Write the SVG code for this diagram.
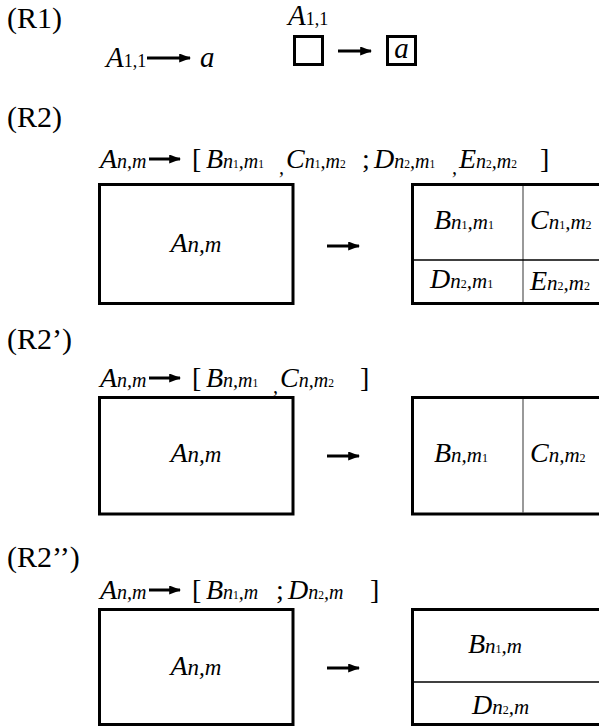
<svg xmlns="http://www.w3.org/2000/svg" width="599" height="727" viewBox="0 0 599 727">
<style>
text{font-family:"Liberation Serif","Times New Roman",serif;fill:#000}
.lbl{font-size:30px}
.m{font-size:28px;font-style:italic}
.s{font-size:20px;font-style:italic}
.d{font-size:11.5px;font-style:normal}
.p{font-size:28px;font-style:normal}
.bm{font-size:29px;font-style:italic}
.bs{font-size:23px;font-style:italic}
.cm{font-size:28px;font-style:italic}
.cs{font-size:21px;font-style:italic}
.cd{font-size:12px;font-style:normal}
.r{font-size:18px;font-style:normal}
.box{fill:#fff;stroke:#000;stroke-width:3}
.vd{stroke:#555;stroke-width:1.2}
.hd{stroke:#000;stroke-width:1.5}
.arr{stroke:#000;stroke-width:3;marker-end:url(#ah)}
</style>
<defs>
<marker id="ah" markerWidth="4" markerHeight="3" refX="3.6" refY="1.5" orient="auto" markerUnits="strokeWidth">
<path d="M0,0 L4,1.5 L0,3 Z" fill="#000"/>
</marker>
</defs>

<g id="labels">
<text class="lbl" x="7" y="28">(R1)</text>
<text class="lbl" x="7" y="127">(R2)</text>
<text class="lbl" x="7" y="349">(R2’)</text>
<text class="lbl" x="7" y="567">(R2’’)</text>
</g>

<g id="formulas">
<text x="106" y="67"><tspan class="bm">A</tspan><tspan class="r">1,1</tspan></text>
<text class="bm" x="200" y="67">a</text>

<text y="168"><tspan class="m" x="100">A</tspan><tspan class="s">n,m</tspan><tspan class="p" x="192">[</tspan><tspan class="m" x="206">B</tspan><tspan class="s">n</tspan><tspan class="d">1</tspan><tspan class="s">,m</tspan><tspan class="d">1</tspan><tspan class="s" x="279" dy="6">,</tspan><tspan class="m" x="286" dy="-6">C</tspan><tspan class="s">n</tspan><tspan class="d">1</tspan><tspan class="s">,m</tspan><tspan class="d">2</tspan><tspan class="p" x="362">;</tspan><tspan class="m" x="374">D</tspan><tspan class="s">n</tspan><tspan class="d">2</tspan><tspan class="s">,m</tspan><tspan class="d">1</tspan><tspan class="s" x="452" dy="6">,</tspan><tspan class="m" x="459" dy="-6">E</tspan><tspan class="s">n</tspan><tspan class="d">2</tspan><tspan class="s">,m</tspan><tspan class="d">2</tspan><tspan class="p" x="540">]</tspan></text>

<text y="387"><tspan class="m" x="100">A</tspan><tspan class="s">n,m</tspan><tspan class="p" x="192">[</tspan><tspan class="m" x="206">B</tspan><tspan class="s">n,m</tspan><tspan class="d">1</tspan><tspan class="s" x="273" dy="6">,</tspan><tspan class="m" x="280" dy="-6">C</tspan><tspan class="s">n,m</tspan><tspan class="d">2</tspan><tspan class="p" x="360">]</tspan></text>

<text y="599"><tspan class="m" x="100">A</tspan><tspan class="s">n,m</tspan><tspan class="p" x="192">[</tspan><tspan class="m" x="206">B</tspan><tspan class="s">n</tspan><tspan class="d">1</tspan><tspan class="s">,m</tspan><tspan class="p" x="276">;</tspan><tspan class="m" x="288">D</tspan><tspan class="s">n</tspan><tspan class="d">2</tspan><tspan class="s">,m</tspan><tspan class="p" x="370">]</tspan></text>
</g>

<g id="r1-left">
<text x="288" y="25"><tspan class="bm">A</tspan><tspan class="r">1,1</tspan></text>
<rect class="box" x="294.5" y="36.5" width="28" height="28"/>
</g>
<g id="r1-right">
<rect class="box" x="387.5" y="36.5" width="28" height="28"/>
<text class="bm" x="401.5" y="58" text-anchor="middle">a</text>
</g>

<g id="r2-left">
<rect class="box" x="99.5" y="184.5" width="193.5" height="119"/>
<text x="196" y="252" text-anchor="middle"><tspan class="cm">A</tspan><tspan class="bs">n,m</tspan></text>
</g>
<g id="r2-right">
<rect class="box" x="412.5" y="184.5" width="200" height="119"/>
<line class="vd" x1="523" y1="186" x2="523" y2="302"/>
<line class="hd" x1="414" y1="260" x2="599" y2="260"/>
<text x="434" y="229"><tspan class="cm">B</tspan><tspan class="cs">n</tspan><tspan class="cd">1</tspan><tspan class="cs">,m</tspan><tspan class="cd">1</tspan></text>
<text x="530" y="229"><tspan class="cm">C</tspan><tspan class="cs">n</tspan><tspan class="cd">1</tspan><tspan class="cs">,m</tspan><tspan class="cd">2</tspan></text>
<text x="430" y="288"><tspan class="cm">D</tspan><tspan class="cs">n</tspan><tspan class="cd">2</tspan><tspan class="cs">,m</tspan><tspan class="cd">1</tspan></text>
<text x="530" y="290"><tspan class="cm">E</tspan><tspan class="cs">n</tspan><tspan class="cd">2</tspan><tspan class="cs">,m</tspan><tspan class="cd">2</tspan></text>
</g>

<g id="r2p-left">
<rect class="box" x="99.5" y="397.5" width="193.5" height="116.5"/>
<text x="196" y="462" text-anchor="middle"><tspan class="cm">A</tspan><tspan class="bs">n,m</tspan></text>
</g>
<g id="r2p-right">
<rect class="box" x="412.5" y="397.5" width="200" height="116.5"/>
<line class="vd" x1="523" y1="399" x2="523" y2="513"/>
<text x="434" y="462"><tspan class="cm">B</tspan><tspan class="cs">n,m</tspan><tspan class="cd">1</tspan></text>
<text x="530" y="462"><tspan class="cm">C</tspan><tspan class="cs">n,m</tspan><tspan class="cd">2</tspan></text>
</g>

<g id="r2pp-left">
<rect class="box" x="99.5" y="609.5" width="193.5" height="115"/>
<text x="196" y="675" text-anchor="middle"><tspan class="cm">A</tspan><tspan class="bs">n,m</tspan></text>
</g>
<g id="r2pp-right">
<rect class="box" x="412.5" y="609.5" width="200" height="115"/>
<line class="hd" x1="414" y1="682" x2="599" y2="682"/>
<text x="468" y="653"><tspan class="cm">B</tspan><tspan class="cs">n</tspan><tspan class="cd">1</tspan><tspan class="cs">,m</tspan></text>
<text x="472" y="714"><tspan class="cm">D</tspan><tspan class="cs">n</tspan><tspan class="cd">2</tspan><tspan class="cs">,m</tspan></text>
</g>

<g id="connectors">
<line class="arr" x1="149" y1="159" x2="180" y2="159"/>
<line class="arr" x1="147" y1="58" x2="190" y2="58"/>
<line class="arr" x1="338" y1="51" x2="371" y2="51"/>
<line class="arr" x1="327" y1="246" x2="359" y2="246"/>
<line class="arr" x1="149" y1="378" x2="180" y2="378"/>
<line class="arr" x1="327" y1="456" x2="359" y2="456"/>
<line class="arr" x1="149" y1="590" x2="180" y2="590"/>
<line class="arr" x1="327" y1="668" x2="359" y2="668"/>
</g>
</svg>
